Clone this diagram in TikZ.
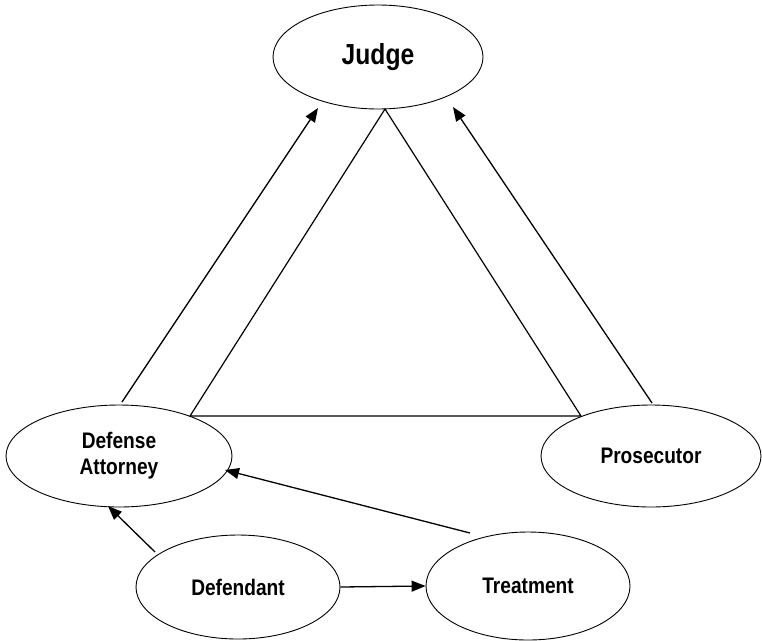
\documentclass[tikz,border=0pt]{standalone}
\usepackage{fontspec}
\setmainfont{Liberation Sans}[FakeStretch=0.85]
\usepackage{tikz}
\usetikzlibrary{calc}
\usetikzlibrary{shapes.geometric}
\usetikzlibrary{arrows.meta}
\tikzstyle{party}=[ellipse, draw, line width=0.9pt, inner sep=0pt, font=\bfseries\fontsize{22.5}{26}\selectfont, align=center]
\tikzstyle{link}=[line width=1.2pt]
\tikzstyle{arr}=[line width=1.3pt, -{Triangle[length=14pt,width=11pt]}]
\begin{document}
\begin{tikzpicture}
        [x=1pt,y=-1pt]
            \useasboundingbox (0,0) rectangle (762,640);
            \node [party, minimum width=210pt, minimum height=104pt, font=\bfseries\fontsize{29}{32}\selectfont] (judge) at (378,57) {Judge};
            \node [party, minimum width=226pt, minimum height=102pt] (defense) at (119,456) {Defense\\Attorney};
            \node [party, minimum width=220pt, minimum height=102pt] (prosecutor) at (651,456) {Prosecutor};
            \node [party, minimum width=204pt, minimum height=104pt] (defendant) at (238,587) {Defendant};
            \node [party, minimum width=204pt, minimum height=108pt] (treatment) at (528,586) {Treatment};
            \draw [link] ($(judge.center)+(7,52)$) -- ($(defense.center)+(71,-40)$) -- ($(prosecutor.center)+(-70,-40)$) -- cycle;
            \draw [arr] ($(defense.center)+(3,-54)$) -- ($(judge.center)+(-60,51)$);
            \draw [arr] ($(prosecutor.center)+(1,-53)$) -- ($(judge.center)+(75,50)$);
            \draw [arr] ($(defendant.center)+(-83,-35)$) -- ($(defense.center)+(-11,50)$);
            \draw [arr] ($(treatment.center)+(-58,-53)$) -- ($(defense.center)+(106,14)$);
            \draw [arr] (defendant.east) -- (treatment.west);
        \end{tikzpicture}
\end{document}
